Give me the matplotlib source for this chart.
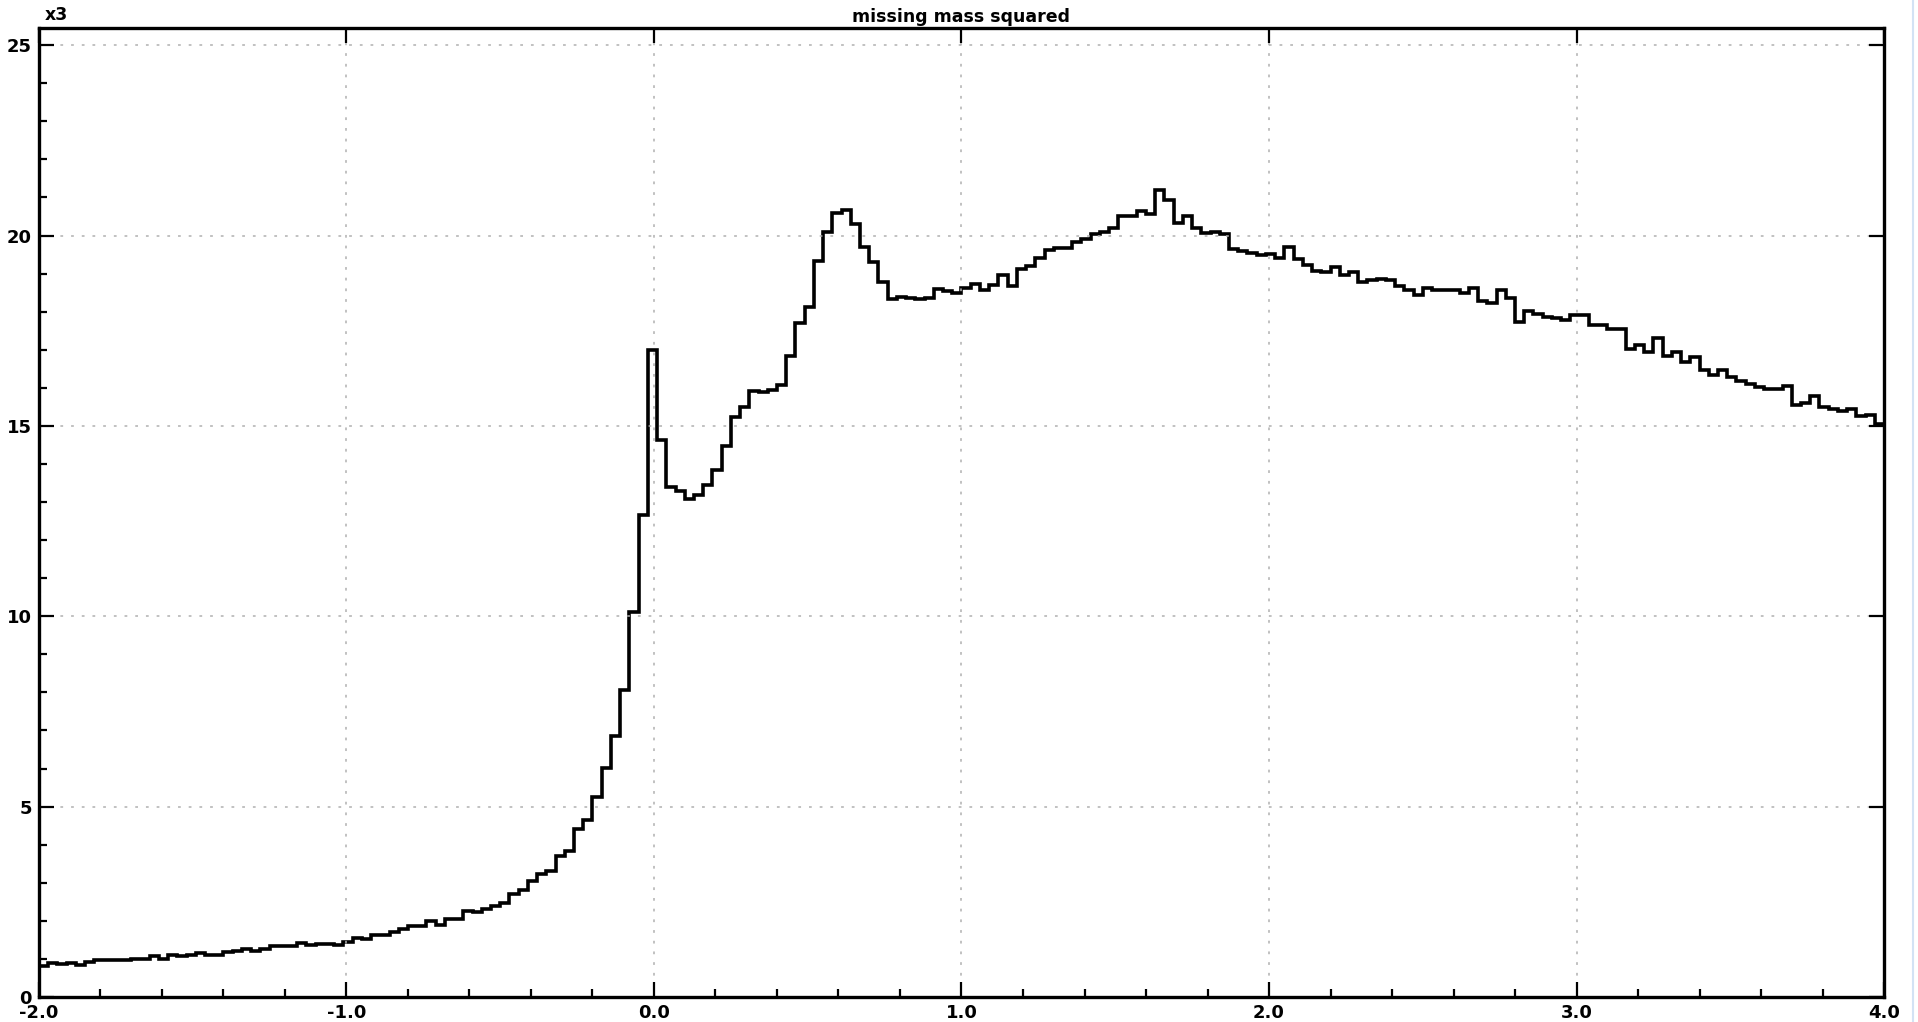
import numpy as np
import matplotlib
matplotlib.use("Agg")
import matplotlib.pyplot as plt
from matplotlib.ticker import MultipleLocator, FormatStrFormatter
from matplotlib.lines import Line2D

plt.rcParams['axes.unicode_minus'] = False
plt.rcParams['font.family'] = 'DejaVu Sans'
plt.rcParams['font.weight'] = 'bold'

# histogram range and binning (200 bins of 0.03)
x_lo, x_hi = -2.0, 4.0
n_bins = 200

title = "missing mass squared"
scale_label = "x3"   # counts shown in units of 10^3

# bin contents, x10^3 entries
counts = [
    0.82, 0.88, 0.86, 0.88, 0.85, 0.93, 0.97, 0.97, 0.97, 0.98,
    1.00, 1.00, 1.08, 0.99, 1.10, 1.08, 1.10, 1.15, 1.10, 1.10,
    1.18, 1.21, 1.27, 1.22, 1.27, 1.33, 1.33, 1.33, 1.42, 1.37,
    1.40, 1.40, 1.36,
    1.44, 1.56, 1.52, 1.63, 1.63, 1.71, 1.78, 1.86, 1.86, 2.00,
    1.90, 2.06, 2.06, 2.26, 2.22, 2.31, 2.39, 2.48, 2.70, 2.81,
    3.05, 3.22, 3.31, 3.70, 3.84, 4.42, 4.65, 5.26, 6.02, 6.85,
    8.06, 10.10, 12.65, 17.00,
    14.62, 13.39, 13.29, 13.07, 13.18, 13.44, 13.83, 14.46, 15.24, 15.49,
    15.92, 15.88, 15.95, 16.07, 16.84, 17.71, 18.12, 19.33, 20.10, 20.59,
    20.68, 20.29, 19.69, 19.30, 18.79, 18.34, 18.39, 18.37, 18.34, 18.37,
    18.59, 18.53, 18.50, 18.63,
    18.73, 18.56, 18.70, 18.95, 18.67, 19.11, 19.21, 19.40, 19.62, 19.66,
    19.66, 19.83, 19.90, 20.03, 20.10, 20.20, 20.51, 20.51, 20.64, 20.57,
    21.19, 20.93, 20.33, 20.51, 20.20, 20.07, 20.10, 20.05, 19.65, 19.59,
    19.55, 19.50,
    19.52, 19.41, 19.69, 19.37, 19.22, 19.08, 19.04, 19.18, 18.95, 19.04,
    18.78, 18.82, 18.87, 18.82, 18.67, 18.58, 18.43, 18.63, 18.58, 18.56,
    18.58, 18.48, 18.63, 18.28, 18.22, 18.58, 18.36, 17.73, 18.01, 17.95,
    17.87, 17.83, 17.78,
    17.90, 17.90, 17.65, 17.65, 17.54, 17.54, 17.01, 17.13, 16.95, 17.30,
    16.84, 16.95, 16.68, 16.82, 16.47, 16.34, 16.47, 16.29, 16.18, 16.09,
    16.01, 15.96, 15.96, 16.05, 15.55, 15.61, 15.79, 15.50, 15.44, 15.39,
    15.44, 15.26, 15.29, 15.06,
]

edges = np.linspace(x_lo, x_hi, n_bins + 1)

fig = plt.figure(figsize=(19.18, 10.22), dpi=100)
ax = fig.add_axes([0.0203, 0.0245, 0.9620, 0.9481])

ax.stairs(counts, edges, baseline=None, color='black', lw=2.6)

ax.set_xlim(x_lo, x_hi)
ax.set_ylim(0, 25.45)

ax.xaxis.set_major_locator(MultipleLocator(1.0))
ax.xaxis.set_minor_locator(MultipleLocator(0.2))
ax.xaxis.set_major_formatter(FormatStrFormatter('%.1f'))
ax.yaxis.set_major_locator(MultipleLocator(5))
ax.yaxis.set_minor_locator(MultipleLocator(1))

ax.tick_params(which='both', direction='in', labelsize=13, width=1.6, color='black')
ax.tick_params(which='major', length=11, top=True, right=True)
ax.tick_params(which='minor', length=5.5)
ax.tick_params(axis='x', pad=5)
ax.tick_params(axis='y', pad=5)

ax.grid(which='major', color='#b0b0b0', lw=1.1, linestyle=(0, (1.8, 5.2)))

for sp in ax.spines.values():
    sp.set_linewidth(2.4)

ax.set_title(title, fontsize=12.5, fontweight='bold', pad=4)
ax.text(0.003, 1.004, scale_label, transform=ax.transAxes, ha='left', va='bottom',
        fontsize=12.5, fontweight='bold')

# thin border at the right edge of the window
fig.add_artist(Line2D([0.9975, 0.9975], [0, 1], color='#d3e2f4', lw=1.5))

fig.savefig('out.png', dpi=100, facecolor='white')
